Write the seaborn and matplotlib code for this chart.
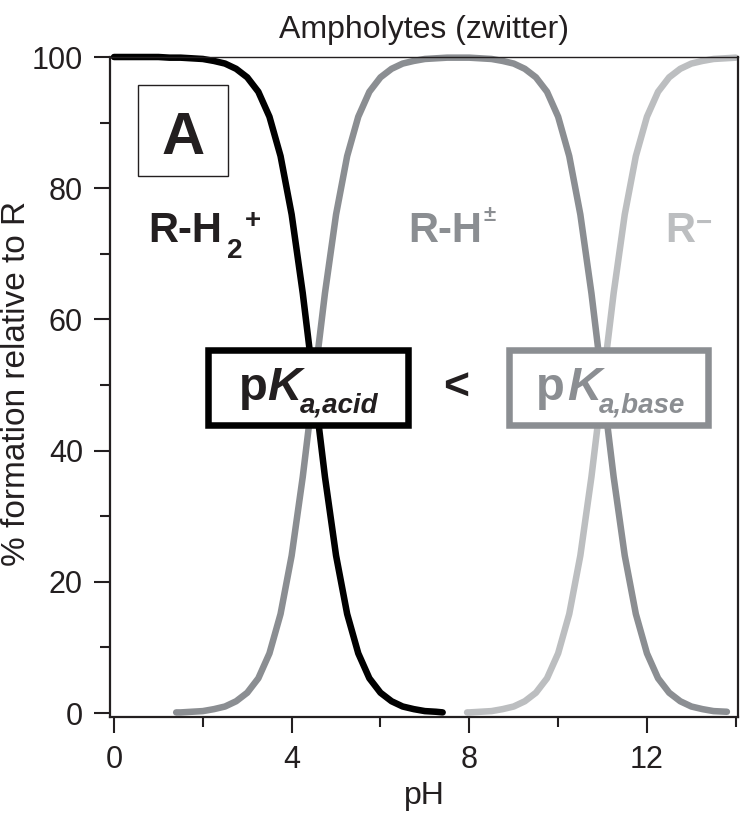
import matplotlib
matplotlib.use('Agg')
import matplotlib.pyplot as plt
from matplotlib.patches import Rectangle
from matplotlib.ticker import MultipleLocator
from pandas import DataFrame
import seaborn as sns

# species distribution (% formation vs pH)
ph_acid = [0, 0.25, 0.5, 0.75, 1.0, 1.25, 1.5, 1.75, 2.0, 2.25, 2.5, 2.75, 3.0, 3.25, 3.5, 3.75,
           4.0, 4.25, 4.5, 4.75, 5.0, 5.25, 5.5, 5.75, 6.0, 6.25, 6.5, 6.75, 7.0, 7.25, 7.4]
pct_acid = [100.0, 100.0, 100.0, 100.0, 100.0, 99.9, 99.9, 99.8, 99.7, 99.4, 99.0, 98.2, 96.9, 94.7, 90.9, 84.9,
            76.0, 64.0, 50.0, 36.0, 24.0, 15.1, 9.1, 5.3, 3.1, 1.8, 1.0, 0.6, 0.3, 0.2, 0.1]

ph_zw = [1.4, 1.5, 1.75, 2.0, 2.25, 2.5, 2.75, 3.0, 3.25, 3.5, 3.75, 4.0, 4.25, 4.5, 4.75, 5.0, 5.25,
         5.5, 5.75, 6.0, 6.25, 6.5, 6.75, 7.0, 7.25, 7.5, 7.75, 8.0, 8.25, 8.5, 8.75, 9.0, 9.25, 9.5,
         9.75, 10.0, 10.25, 10.5, 10.75, 11.0, 11.25, 11.5, 11.75, 12.0, 12.25, 12.5, 12.75, 13.0,
         13.25, 13.5, 13.8]
pct_zw = [0.1, 0.1, 0.2, 0.3, 0.6, 1.0, 1.8, 3.1, 5.3, 9.1, 15.1, 24.0, 36.0, 50.0, 64.0, 76.0, 84.9,
          90.9, 94.7, 96.9, 98.2, 99.0, 99.4, 99.7, 99.8, 99.9, 99.9, 99.9, 99.8, 99.7, 99.4, 99.0, 98.2, 96.9,
          94.7, 90.9, 84.9, 76.0, 64.0, 50.0, 36.0, 24.0, 15.1, 9.1, 5.3, 3.1, 1.8, 1.0,
          0.6, 0.3, 0.2]

ph_base = [7.95, 8.0, 8.25, 8.5, 8.75, 9.0, 9.25, 9.5, 9.75, 10.0, 10.25, 10.5, 10.75, 11.0, 11.25,
           11.5, 11.75, 12.0, 12.25, 12.5, 12.75, 13.0, 13.25, 13.5, 13.75, 14.0]
pct_base = [0.1, 0.1, 0.2, 0.3, 0.6, 1.0, 1.8, 3.1, 5.3, 9.1, 15.1, 24.0, 36.0, 50.0, 64.0,
            76.0, 84.9, 90.9, 94.7, 96.9, 98.2, 99.0, 99.4, 99.7, 99.8, 99.9]

species = ['R-H2+', 'R-H+-', 'R-']
colors = {'R-H2+': '#000000', 'R-H+-': '#8b8e92', 'R-': '#bcbec0'}

df = DataFrame({
    'pH': ph_acid + ph_zw + ph_base,
    'pct': pct_acid + pct_zw + pct_base,
    'species': [species[0]] * len(ph_acid) + [species[1]] * len(ph_zw) + [species[2]] * len(ph_base),
})

sns.set_style('ticks')
plt.rcParams['font.family'] = ['Liberation Sans', 'DejaVu Sans']
dark = '#231f20'
grey = colors['R-H+-']

fig = plt.figure(figsize=(7.43, 8.14), dpi=100)
ax = fig.add_axes([0.14805, 0.11916, 0.84522, 0.81081])

# draw light ones first, black on top
for sp in ['R-', 'R-H+-', 'R-H2+']:
    sns.lineplot(data=df[df['species'] == sp], x='pH', y='pct', color=colors[sp], lw=4.7,
                 estimator=None, sort=False, solid_capstyle='round', clip_on=False, ax=ax, zorder=2)

ax.set_xlim(-0.09, 14.05)
ax.set_ylim(-0.6, 100)
ax.xaxis.set_major_locator(MultipleLocator(4))
ax.xaxis.set_minor_locator(MultipleLocator(2))
ax.yaxis.set_major_locator(MultipleLocator(20))
ax.yaxis.set_minor_locator(MultipleLocator(10))
ax.tick_params(which='major', length=11.5, width=1.5, direction='out', labelsize=22,
               color=dark, labelcolor=dark)
ax.tick_params(which='minor', length=7.5, width=1.5, direction='out', color=dark)
ax.tick_params(axis='x', which='major', pad=8.5)
ax.tick_params(axis='y', which='major', pad=8)
for s in ['left', 'bottom', 'right']:
    ax.spines[s].set_linewidth(1.6)
    ax.spines[s].set_color(dark)
ax.spines['top'].set_linewidth(1.0)
ax.spines['top'].set_color(dark)

ax.set_title('Ampholytes (zwitter)', fontsize=23, pad=14, color=dark)
ax.set_xlabel('pH', fontsize=23, color=dark)
ax.set_ylabel('% formation relative to R', fontsize=24, color=dark)
ax.xaxis.label.set_verticalalignment('baseline')
ax.xaxis.set_label_coords(0.5, -0.1318)
ax.yaxis.set_label_coords(-0.124, 0.505)

# panel letter box
ax.add_patch(Rectangle((0.0446, 0.8197), 0.1433, 0.1379, transform=ax.transAxes,
                       facecolor='white', edgecolor=dark, lw=1.0, zorder=3))
ax.text(0.1158, 0.853, 'A', transform=ax.transAxes, ha='center', va='baseline',
        fontsize=43, fontweight='bold', color=dark, zorder=4)


def label(x, y, s, size, color, style='normal', ha='left'):
    return ax.text(x, y, s, transform=ax.transAxes, fontsize=size, fontweight='bold', fontstyle=style,
                   color=color, ha=ha, va='baseline', zorder=4)


def right_of(t, dx_px):
    # axes-x just after the end of an existing text, shifted by dx pixels
    fig.canvas.draw()
    bb = t.get_window_extent(renderer=fig.canvas.get_renderer())
    return ax.transAxes.inverted().transform((bb.x1 + dx_px, bb.y0))[0]


# species labels with sub/superscripts
t = label(0.0615, 0.7197, 'R-H', 30, dark)
label(right_of(t, 5), 0.6955, '2', 20, dark)
label(right_of(t, 30), 0.7409, '+', 20, dark, ha='center')
t = label(0.4757, 0.7197, 'R-H', 30, grey)
label(right_of(t, 1), 0.7515, '\u00b1', 16, grey)
t = label(0.8842, 0.7197, 'R', 30, colors['R-'])
label(right_of(t, 1), 0.7364, '\u2212', 20, colors['R-'])

# pKa boxes
ax.add_patch(Rectangle((0.1565, 0.4424), 0.3187, 0.1136, transform=ax.transAxes,
                       facecolor='white', edgecolor='#000000', lw=4.7, zorder=3))
ax.add_patch(Rectangle((0.6358, 0.4424), 0.3171, 0.1136, transform=ax.transAxes,
                       facecolor='white', edgecolor=grey, lw=4.7, zorder=3))
label(0.2046, 0.4803, 'p', 34, dark)
t = label(0.2505, 0.4803, 'K', 34, dark, style='italic')
label(right_of(t, -2), 0.4621, 'a,acid', 20, dark, style='italic')
label(0.6790, 0.4803, 'p', 34, grey)
t = label(0.7280, 0.4803, 'K', 34, grey, style='italic')
label(right_of(t, -2), 0.4621, 'a,base', 20, grey, style='italic')
label(0.551, 0.4803, '<', 32, dark, ha='center')

fig.savefig('out.png', dpi=100)
